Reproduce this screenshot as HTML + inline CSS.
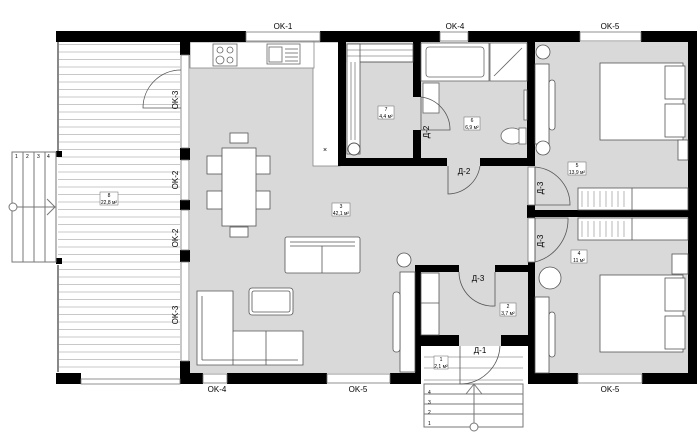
<!DOCTYPE html>
<html><head><meta charset="utf-8"><style>
html,body{margin:0;padding:0;background:#fff}
svg{display:block}
text{font-family:"Liberation Sans",sans-serif;fill:#000}
</style></head><body>
<svg width="700" height="442" viewBox="0 0 700 442" xmlns="http://www.w3.org/2000/svg">
<defs>
<pattern id="deck" width="10" height="7.5" patternUnits="userSpaceOnUse">
<rect width="10" height="7.5" fill="#fff"/><line x1="0" y1="7" x2="10" y2="7" stroke="#c8c8c8" stroke-width="1"/>
</pattern>
</defs>
<rect x="58" y="42" width="122" height="331" fill="url(#deck)"/>
<line x1="58" y1="42" x2="58" y2="152" stroke="#888" stroke-width="2"/>
<line x1="58" y1="265" x2="58" y2="372" stroke="#888" stroke-width="2"/>
<rect x="56" y="151" width="6" height="6" fill="#000"/>
<rect x="56" y="258" width="6" height="6" fill="#000"/>
<g stroke="#777" fill="none" stroke-width="1">
<rect x="12" y="152" width="44" height="110"/>
<line x1="23" y1="152" x2="23" y2="262"/><line x1="34" y1="152" x2="34" y2="262"/><line x1="45" y1="152" x2="45" y2="262"/>
<circle cx="13" cy="207" r="4" fill="#fff"/>
<line x1="17" y1="207" x2="56" y2="207"/><polyline points="47,199 55,207 47,215"/>
</g>
<g font-size="5"><text x="15" y="158">1</text><text x="26" y="158">2</text><text x="37" y="158">3</text><text x="47" y="158">4</text></g>
<rect x="190" y="42" width="500" height="331" fill="#d9d9d9"/>
<rect x="190" y="42" width="125" height="26" fill="#fff"/>
<rect x="313" y="42" width="27" height="124" fill="#fff" stroke="#888" stroke-width="0.8"/>
<rect x="190" y="42" width="124" height="26" fill="#fff" stroke="#888" stroke-width="0.8"/>
<rect x="421" y="346" width="107" height="82" fill="#fff"/>
<g stroke="#999" stroke-width="0.8">
<line x1="424" y1="357" x2="523" y2="357"/><line x1="424" y1="368" x2="523" y2="368"/><line x1="424" y1="380" x2="523" y2="380"/>
</g>
<g stroke="#777" stroke-width="1" fill="none">
<rect x="424" y="384" width="99" height="43"/>
<line x1="424" y1="394" x2="523" y2="394"/><line x1="424" y1="404" x2="523" y2="404"/><line x1="424" y1="414" x2="523" y2="414"/>
<line x1="474" y1="384" x2="474" y2="423"/><circle cx="474" cy="427" r="4" fill="#fff"/>
<polyline points="466,394 474,384 482,394"/>
</g>
<g font-size="5"><text x="428" y="394">4</text><text x="428" y="404">3</text><text x="428" y="414">2</text><text x="428" y="425">1</text></g>
<g fill="#000">
<rect x="56" y="31" width="190" height="11"/>
<rect x="320" y="31" width="120" height="11"/>
<rect x="468" y="31" width="112" height="11"/>
<rect x="641" y="31" width="56" height="11"/>
<rect x="180" y="42" width="10" height="13"/>
<rect x="180" y="148" width="10" height="12"/>
<rect x="180" y="200" width="10" height="10"/>
<rect x="180" y="250" width="10" height="12"/>
<rect x="180" y="361" width="10" height="23"/>
<rect x="56" y="373" width="25" height="11"/>
<rect x="190" y="373" width="13" height="11"/>
<rect x="227" y="373" width="100" height="11"/>
<rect x="390" y="373" width="31" height="11"/>
<rect x="528" y="373" width="50" height="11"/>
<rect x="642" y="373" width="55" height="11"/>
<rect x="688" y="42" width="9" height="331"/>
<rect x="338" y="42" width="8" height="124"/>
<rect x="413" y="42" width="8" height="55"/>
<rect x="413" y="130" width="8" height="36"/>
<rect x="338" y="158" width="109" height="8"/>
<rect x="480" y="158" width="55" height="8"/>
<rect x="527" y="42" width="8" height="124"/>
<rect x="527" y="205" width="8" height="13"/>
<rect x="535" y="210" width="162" height="7"/>
<rect x="528" y="262" width="7" height="122"/>
<rect x="415" y="265" width="6" height="119"/>
<rect x="415" y="265" width="44" height="7"/>
<rect x="495" y="265" width="40" height="7"/>
<rect x="415" y="335" width="44" height="11"/>
<rect x="501" y="335" width="34" height="11"/>
</g>
<g fill="#fff" stroke="#777" stroke-width="0.8">
<rect x="246" y="32" width="74" height="9"/><rect x="440" y="32" width="28" height="9"/><rect x="580" y="32" width="61" height="9"/>
<rect x="203" y="374" width="24" height="9"/><rect x="327" y="374" width="63" height="9"/><rect x="578" y="374" width="64" height="9"/>
<rect x="81" y="379" width="99" height="5"/>
<rect x="181" y="55" width="8" height="93"/><rect x="181" y="160" width="8" height="40"/><rect x="181" y="210" width="8" height="40"/><rect x="181" y="262" width="8" height="99"/>
<rect x="528" y="167" width="7" height="38"/><rect x="528" y="218" width="7" height="44"/>
</g>
<rect x="346" y="42" width="67" height="116" fill="#d9d9d9"/>
<g stroke="#555" stroke-width="0.8" fill="#fff">
<rect x="347" y="44" width="66" height="18"/><rect x="347" y="44" width="13" height="110"/>
</g>
<g stroke="#555" stroke-width="0.6">
<line x1="347" y1="50" x2="413" y2="50"/><line x1="347" y1="56" x2="413" y2="56"/><line x1="360" y1="62" x2="413" y2="62"/>
<line x1="351" y1="62" x2="351" y2="140"/><line x1="355" y1="62" x2="355" y2="140"/>
</g>
<circle cx="354" cy="149" r="6" fill="#fff" stroke="#555"/>
<g fill="#fff" stroke="#666" stroke-width="0.8">
<rect x="421" y="43" width="68" height="38"/><rect x="426" y="47" width="58" height="30" rx="3"/>
<rect x="490" y="43" width="37" height="38"/><line x1="494" y1="76" x2="522" y2="48"/>
<rect x="423" y="83" width="16" height="30"/>
<ellipse cx="512" cy="136" rx="11" ry="8"/><rect x="519" y="128" width="7" height="16"/>
<rect x="524" y="90" width="3" height="30"/>
</g>
<g fill="#fff" stroke="#666" stroke-width="0.8">
<rect x="213" y="44" width="24" height="22"/><circle cx="220" cy="50" r="3"/><circle cx="230" cy="50" r="3"/><circle cx="220" cy="60" r="4"/><circle cx="230" cy="60" r="3"/>
<rect x="267" y="44" width="33" height="20"/><rect x="269" y="47" width="13" height="15"/>
<line x1="285" y1="49" x2="298" y2="49"/><line x1="285" y1="53" x2="298" y2="53"/><line x1="285" y1="57" x2="298" y2="57"/><line x1="285" y1="61" x2="298" y2="61"/>
</g>
<text x="323" y="152" font-size="7">×</text>
<g fill="#fff" stroke="#555" stroke-width="0.8">
<rect x="230" y="133" width="18" height="10"/><rect x="230" y="227" width="18" height="10"/>
<rect x="207" y="156" width="15" height="18"/><rect x="207" y="191" width="15" height="18"/>
<rect x="255" y="156" width="15" height="18"/><rect x="255" y="191" width="15" height="18"/>
<rect x="222" y="148" width="34" height="78"/>
<rect x="285" y="237" width="75" height="36" rx="2"/><line x1="290" y1="242" x2="355" y2="242"/><line x1="290" y1="246" x2="355" y2="246"/><line x1="322" y1="246" x2="322" y2="273"/>
<rect x="249" y="288" width="44" height="27" rx="3"/><rect x="252" y="291" width="38" height="21" rx="2"/>
<path d="M197 291 H233 V331 H303 V365 H197 Z"/><line x1="202" y1="296" x2="202" y2="360"/><line x1="202" y1="360" x2="298" y2="360"/><line x1="233" y1="331" x2="233" y2="365"/><line x1="266" y1="331" x2="266" y2="365"/>
<rect x="400" y="272" width="15" height="100"/><rect x="393" y="292" width="7" height="60" rx="3"/>
<circle cx="404" cy="260" r="7"/>
<rect x="421" y="273" width="18" height="62"/><line x1="421" y1="303" x2="439" y2="303"/>
<rect x="600" y="63" width="83" height="77"/><rect x="665" y="66" width="20" height="33"/><rect x="665" y="104" width="20" height="33"/>
<rect x="535" y="64" width="14" height="80"/><rect x="549" y="80" width="6" height="50" rx="3"/>
<circle cx="543" cy="52" r="7"/><circle cx="543" cy="148" r="7"/>
<rect x="678" y="140" width="10" height="20"/>
<rect x="578" y="188" width="110" height="22"/><rect x="578" y="218" width="110" height="22"/>
<line x1="632" y1="188" x2="632" y2="210"/><line x1="632" y1="218" x2="632" y2="240"/>
<rect x="600" y="275" width="83" height="77"/><rect x="665" y="278" width="20" height="33"/><rect x="665" y="316" width="20" height="33"/>
<rect x="535" y="297" width="14" height="76"/><rect x="549" y="312" width="6" height="45" rx="3"/>
<rect x="672" y="254" width="16" height="20"/>
<circle cx="550" cy="278" r="11"/>
</g>
<g stroke="#888" stroke-width="0.6">
<line x1="582" y1="191" x2="582" y2="207"/><line x1="588" y1="191" x2="588" y2="207"/><line x1="594" y1="191" x2="594" y2="207"/><line x1="600" y1="191" x2="600" y2="207"/><line x1="606" y1="191" x2="606" y2="207"/><line x1="612" y1="191" x2="612" y2="207"/><line x1="618" y1="191" x2="618" y2="207"/><line x1="624" y1="191" x2="624" y2="207"/>
<line x1="582" y1="221" x2="582" y2="237"/><line x1="588" y1="221" x2="588" y2="237"/><line x1="594" y1="221" x2="594" y2="237"/><line x1="600" y1="221" x2="600" y2="237"/><line x1="606" y1="221" x2="606" y2="237"/><line x1="612" y1="221" x2="612" y2="237"/><line x1="618" y1="221" x2="618" y2="237"/><line x1="624" y1="221" x2="624" y2="237"/>
</g>
<g fill="none" stroke="#555" stroke-width="0.8">
<path d="M181 108 H143 A38 38 0 0 1 181 70"/>
<path d="M421 97 V130 H450 A33 33 0 0 0 421 97"/>
<path d="M448 166 V194 A33 33 0 0 0 480 166"/>
<path d="M535 167 V205 H570 A38 38 0 0 0 535 167"/>
<path d="M535 262 V218 H568 A44 44 0 0 1 535 262"/>
<path d="M495 272 V306 A34 34 0 0 1 459 272"/>
<path d="M460 346 V384 A40 40 0 0 0 500 346"/>
</g>
<g font-size="8" text-anchor="middle">
<text x="283" y="29">OK-1</text><text x="455" y="29">OK-4</text><text x="610" y="29">OK-5</text>
<text x="217" y="392">OK-4</text><text x="358" y="392">OK-5</text><text x="610" y="392">OK-5</text>
<text transform="translate(178,100) rotate(-90)">OK-3</text>
<text transform="translate(178,180) rotate(-90)">OK-2</text>
<text transform="translate(178,238) rotate(-90)">OK-2</text>
<text transform="translate(178,315) rotate(-90)">OK-3</text>
<text transform="translate(429,132) rotate(-90)">Д-2</text>
<text x="464" y="174">Д-2</text>
<text transform="translate(543,188) rotate(-90)">Д-3</text>
<text transform="translate(543,241) rotate(-90)">Д-3</text>
<text x="478" y="281">Д-3</text>
<text x="480" y="353">Д-1</text>
</g>
<g font-size="5" text-anchor="middle">
<rect x="100" y="192" width="18" height="13" fill="#fff" stroke="#666" stroke-width="0.5"/><text x="109" y="197">8</text><text x="109" y="204">22,8 м²</text>
<rect x="332" y="203" width="18" height="13" fill="#fff" stroke="#666" stroke-width="0.5"/><text x="341" y="208">3</text><text x="341" y="215">42,1 м²</text>
<rect x="378" y="106" width="16" height="13" fill="#fff" stroke="#666" stroke-width="0.5"/><text x="386" y="111">7</text><text x="386" y="118">4,4 м²</text>
<rect x="464" y="117" width="16" height="13" fill="#fff" stroke="#666" stroke-width="0.5"/><text x="472" y="122">6</text><text x="472" y="129">6,9 м²</text>
<rect x="568" y="162" width="18" height="13" fill="#fff" stroke="#666" stroke-width="0.5"/><text x="577" y="167">5</text><text x="577" y="174">13,9 м²</text>
<rect x="571" y="250" width="16" height="13" fill="#fff" stroke="#666" stroke-width="0.5"/><text x="579" y="255">4</text><text x="579" y="262">11 м²</text>
<rect x="500" y="303" width="16" height="13" fill="#fff" stroke="#666" stroke-width="0.5"/><text x="508" y="308">2</text><text x="508" y="315">3,7 м²</text>
<rect x="434" y="356" width="14" height="13" fill="#fff" stroke="#666" stroke-width="0.5"/><text x="441" y="361">1</text><text x="441" y="368">2,1 м²</text>
</g>
</svg>
</body></html>
